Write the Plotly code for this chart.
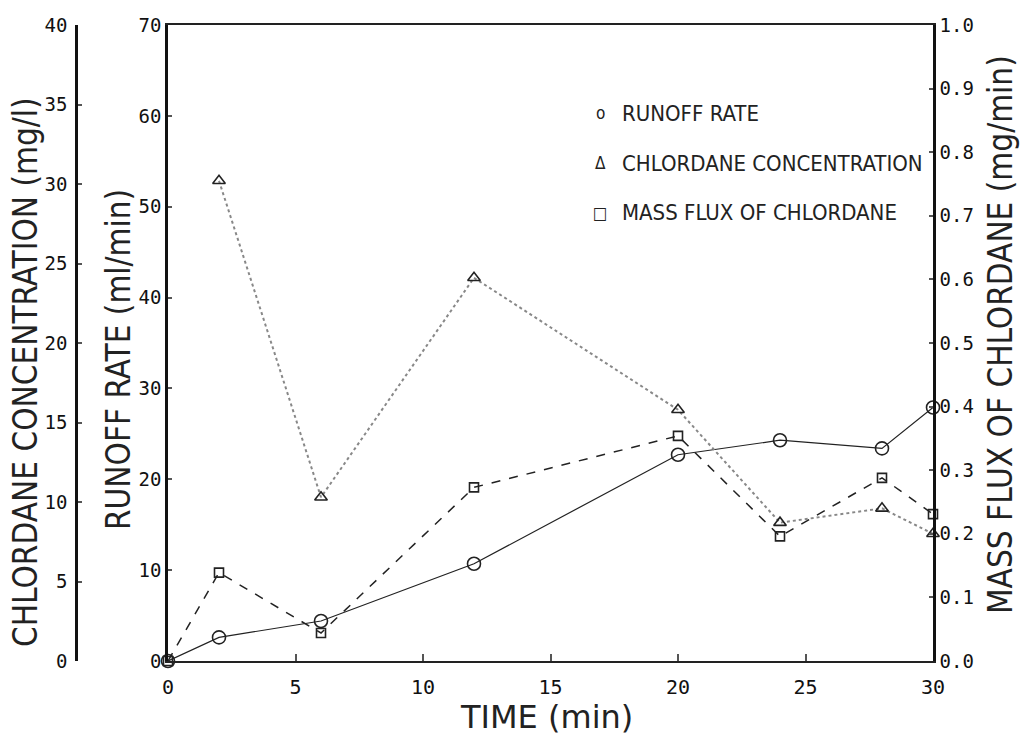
import plotly.graph_objects as go

# ---- data ----
time_runoff = [0, 2, 6, 12, 20, 24, 28, 30]
runoff_rate = [0, 2.6, 4.4, 10.7, 22.7, 24.3, 23.4, 27.9]          # ml/min

time_conc = [2, 6, 12, 20, 24, 28, 30]
chlordane_conc = [30.2, 10.3, 24.1, 15.8, 8.7, 9.6, 8.0]            # mg/l

time_flux = [0, 2, 6, 12, 20, 24, 28, 30]
mass_flux = [0, 0.139, 0.044, 0.273, 0.354, 0.196, 0.288, 0.231]  # mg/min

x_ticks = [0, 5, 10, 15, 20, 25, 30]
x_ticklabels = ["0", "5", "10", "15", "20", "25", "30"]
runoff_ticks = [0, 10, 20, 30, 40, 50, 60, 70]
conc_ticks = [0, 5, 10, 15, 20, 25, 30, 35, 40]
flux_ticks = [0.0, 0.1, 0.2, 0.3, 0.4, 0.5, 0.6, 0.7, 0.8, 0.9, 1.0]

legend_labels = ["RUNOFF RATE", "CHLORDANE CONCENTRATION", "MASS FLUX OF CHLORDANE"]
legend_symbols = ["o", "Δ", "□"]

# ---- layout geometry (pixels of a 1025x738 page) ----
W, H = 1025, 738
PX_L, PX_R = 168, 933
PY_T, PY_B = 25, 661
CONC_AX_X = 76

NARROW = "Liberation Sans Narrow, DejaVu Sans Condensed, Arial Narrow, sans-serif"
WIDE = "DejaVu Sans, sans-serif"
MONO = "DejaVu Sans Mono, Liberation Mono, monospace"

fig = go.Figure()

fig.add_trace(go.Scatter(
    x=time_runoff, y=runoff_rate, mode="lines+markers", name="RUNOFF RATE",
    line=dict(color="#222", width=1.2),
    marker=dict(symbol="circle-open", size=13, color="#222", line=dict(width=1.6)),
    cliponaxis=False, yaxis="y"))

fig.add_trace(go.Scatter(
    x=time_conc, y=chlordane_conc, mode="lines+markers", name="CHLORDANE CONCENTRATION",
    line=dict(color="#888", width=2, dash="dot"),
    marker=dict(symbol="triangle-up-open", size=11, color="#222", line=dict(width=1.6)),
    cliponaxis=False, yaxis="y2"))

fig.add_trace(go.Scatter(
    x=time_flux, y=mass_flux, mode="lines+markers", name="MASS FLUX OF CHLORDANE",
    line=dict(color="#222", width=1.5, dash="dash"),
    marker=dict(symbol="square-open", size=9, color="#222", line=dict(width=1.6)),
    cliponaxis=False, yaxis="y3"))

xd = [PX_L / W, PX_R / W]
yd = [1 - PY_B / H, 1 - PY_T / H]

axis_common = dict(showgrid=False, zeroline=False, ticks="inside",
                   tickcolor="#555", tickwidth=1.5)

fig.update_layout(
    width=W, height=H,
    margin=dict(l=0, r=0, t=0, b=0),
    paper_bgcolor="white", plot_bgcolor="white",
    showlegend=False,
    xaxis=dict(domain=xd, range=[0, 30], tickvals=x_ticks, ticktext=x_ticklabels,
               showline=True, linecolor="#222", linewidth=1.5, mirror=True,
               ticklen=7, ticklabelstandoff=7,
               tickfont=dict(family=MONO, size=20, color="#111"),
               automargin=False, **axis_common),
    yaxis=dict(domain=yd, range=[0, 70], tickvals=runoff_ticks,
               showline=True, linecolor="#111", linewidth=2.5,
               ticklen=4, tickfont=dict(family=MONO, size=19, color="#111"),
               automargin=False, anchor="x", side="left", **axis_common),
    yaxis2=dict(domain=yd, range=[0, 40], tickvals=conc_ticks, overlaying="y",
                anchor="free", position=CONC_AX_X / W, side="left",
                showline=True, linecolor="#111", linewidth=2.5,
                ticklen=4, ticklabelstandoff=4,
                tickfont=dict(family=MONO, size=19, color="#111"),
                automargin=False, **axis_common),
    yaxis3=dict(domain=yd, range=[0, 1.0], tickvals=flux_ticks, tickformat=".1f",
                overlaying="y", anchor="x", side="right",
                showline=True, linecolor="#111", linewidth=2.5,
                ticklen=4, tickfont=dict(family=MONO, size=19, color="#111"),
                automargin=False, **axis_common),
)

TITLE_FONT = dict(family=NARROW, size=33, color="#222")
ann = []
# axis titles
ann.append(dict(text="CHLORDANE CONCENTRATION (mg/l)", x=25 / W, y=1 - 372 / H,
                xref="paper", yref="paper", textangle=-90, showarrow=False,
                xanchor="center", yanchor="middle", font=TITLE_FONT))
ann.append(dict(text="RUNOFF RATE (ml/min)", x=118 / W, y=1 - 360 / H,
                xref="paper", yref="paper", textangle=-90, showarrow=False,
                xanchor="center", yanchor="middle", font=TITLE_FONT))
ann.append(dict(text="MASS FLUX OF CHLORDANE (mg/min)", x=1000 / W, y=1 - 335 / H,
                xref="paper", yref="paper", textangle=-90, showarrow=False,
                xanchor="center", yanchor="middle", font=TITLE_FONT))
ann.append(dict(text="TIME (min)", x=546 / W, y=1 - 717 / H,
                xref="paper", yref="paper", showarrow=False,
                xanchor="center", yanchor="middle",
                font=dict(family=WIDE, size=32, color="#222")))
# legend
for i, (sym, lab) in enumerate(zip(legend_symbols, legend_labels)):
    yy = 1 - (113 + 50 * i) / H
    ann.append(dict(text=sym, x=600 / W, y=yy, xref="paper", yref="paper",
                    showarrow=False, xanchor="center", yanchor="middle",
                    font=dict(family=NARROW, size=17, color="#222")))
    ann.append(dict(text=lab, x=620 / W, y=yy, xref="paper", yref="paper",
                    showarrow=False, xanchor="left", yanchor="middle",
                    font=dict(family=NARROW, size=22, color="#222")))
fig.update_layout(annotations=ann)

fig.write_html("out.html")
